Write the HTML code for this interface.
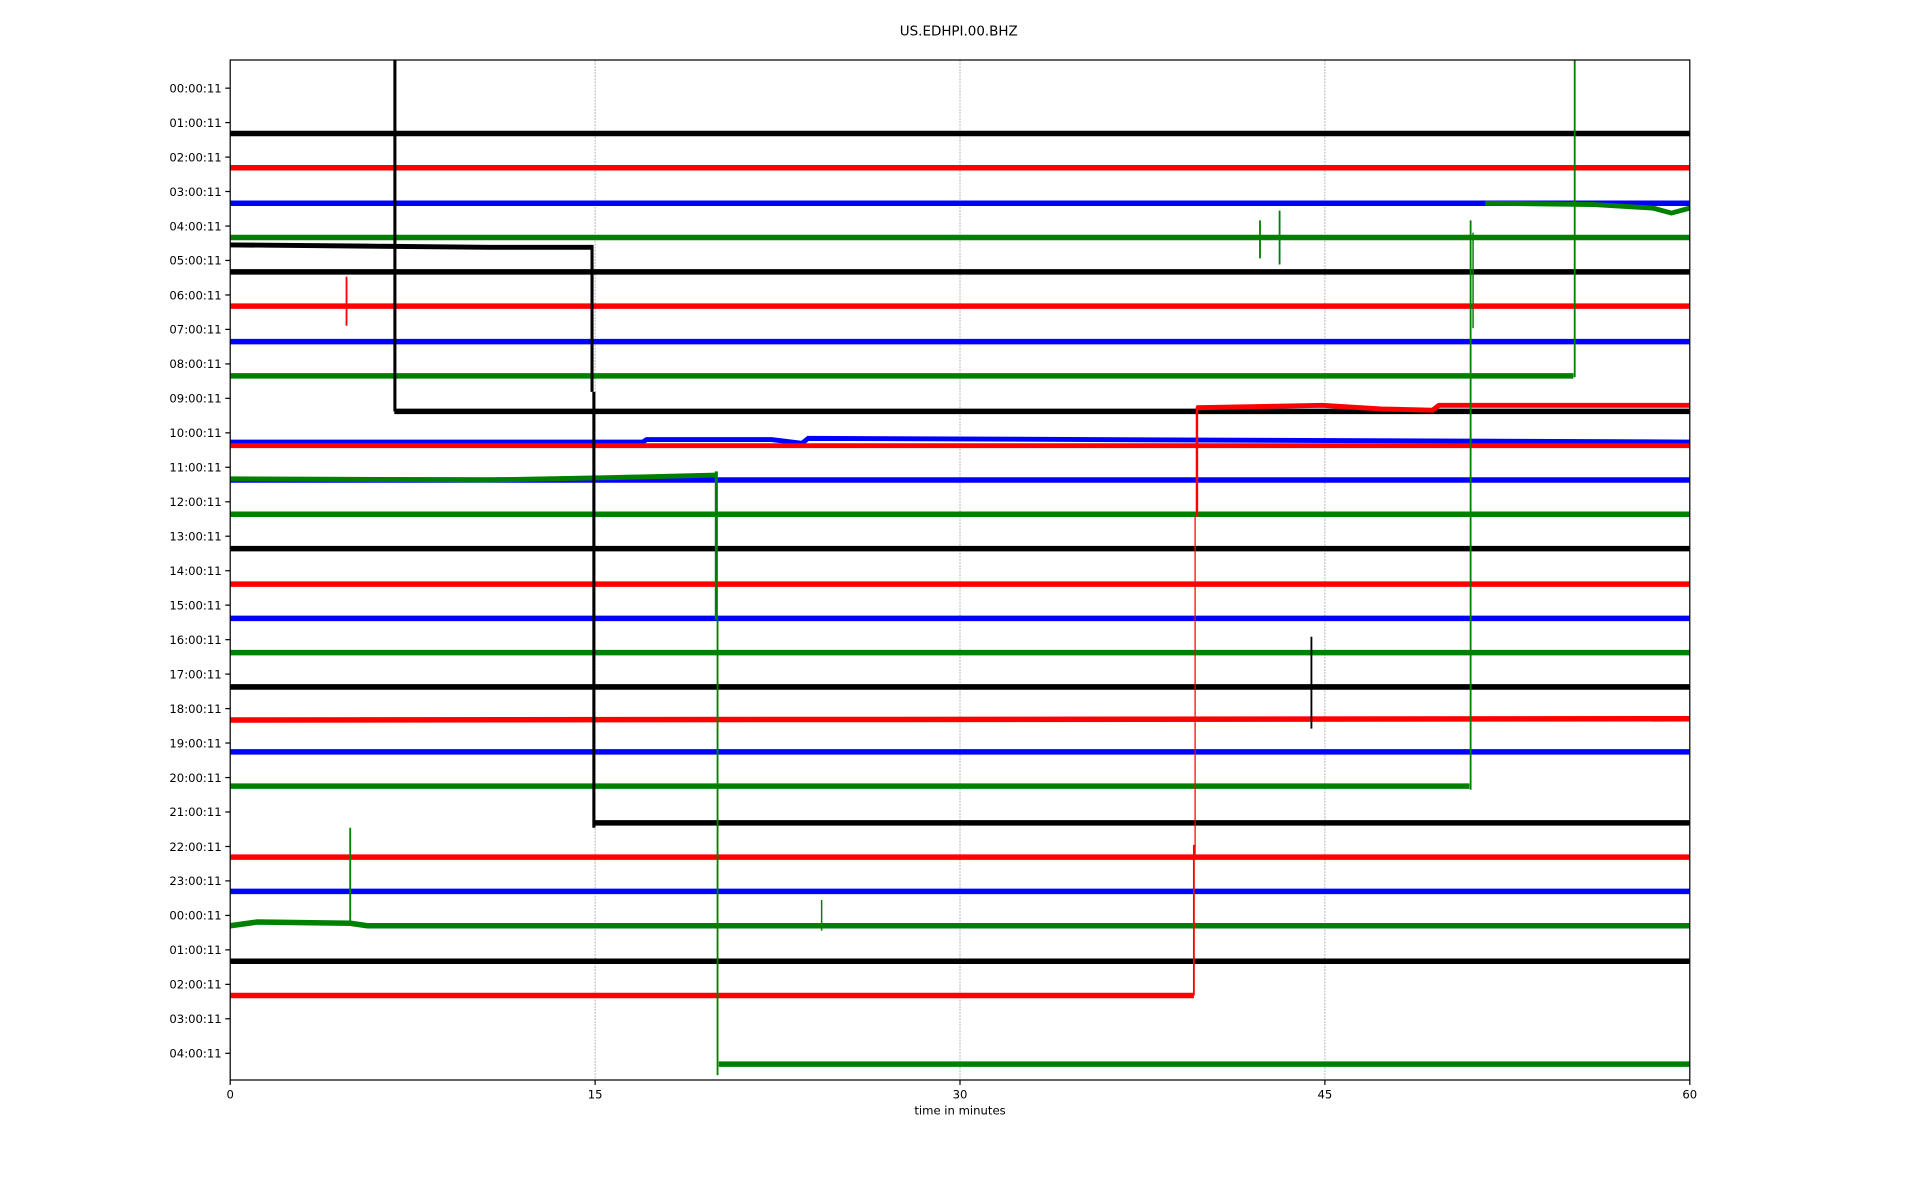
<!DOCTYPE html>
<html><head><meta charset="utf-8"><style>
html,body{margin:0;padding:0;background:#fff;}
svg{display:block;}
text{font-family:"DejaVu Sans","Liberation Sans",sans-serif;fill:#000;}
</style></head><body>
<svg width="1920" height="1200" viewBox="0 0 1568 980" xmlns="http://www.w3.org/2000/svg">
<rect width="1568" height="980" fill="#fff"/>
<text x="783" y="29" font-size="11" text-anchor="middle">US.EDHPI.00.BHZ</text>
<g stroke="#b0b0b0" stroke-width="0.8" stroke-dasharray="1.5,1">
<line x1="486" y1="49" x2="486" y2="882"/>
<line x1="784" y1="49" x2="784" y2="882"/>
<line x1="1082" y1="49" x2="1082" y2="882"/>
</g>
<g fill="none" stroke-linejoin="round">
<g stroke-width="4.5">
<line x1="188" y1="109" x2="1380" y2="109" stroke="#000"/>
<line x1="188" y1="137" x2="1380" y2="137" stroke="#f00"/>
<line x1="188" y1="166" x2="1380" y2="166" stroke="#00f"/>
<line x1="188" y1="194" x2="1380" y2="194" stroke="#008000"/>
<polyline points="188,200 300,201 400,202 483,202" stroke="#000" stroke-width="4"/>
<polyline points="1213,166 1300,167 1350,170 1365,174 1380,170" stroke="#008000" stroke-width="4"/>
<line x1="188" y1="222" x2="1380" y2="222" stroke="#000"/>
<line x1="188" y1="250" x2="1380" y2="250" stroke="#f00"/>
<line x1="188" y1="279" x2="1380" y2="279" stroke="#00f"/>
<line x1="188" y1="307" x2="1285" y2="307" stroke="#008000"/>
<line x1="322" y1="336" x2="1380" y2="336" stroke="#000"/>
<polyline points="977,333 1080,331 1128,334 1170,335 1175,331 1380,331" stroke="#f00" stroke-width="4"/>
<polyline points="188,361 525,361 528,359 630,359 655,362 660,358 1380,361" stroke="#00f" stroke-width="4"/>
<line x1="188" y1="364" x2="1380" y2="364" stroke="#f00" stroke-width="4"/>
<line x1="188" y1="392" x2="1380" y2="392" stroke="#00f"/>
<polyline points="188,391 400,392 500,390 585,388" stroke="#008000" stroke-width="4"/>
<line x1="188" y1="420" x2="1380" y2="420" stroke="#008000"/>
<line x1="188" y1="448" x2="1380" y2="448" stroke="#000"/>
<line x1="188" y1="477" x2="1380" y2="477" stroke="#f00"/>
<line x1="188" y1="505" x2="1380" y2="505" stroke="#00f"/>
<line x1="188" y1="533" x2="1380" y2="533" stroke="#008000"/>
<line x1="188" y1="561" x2="1380" y2="561" stroke="#000"/>
<line x1="188" y1="588" x2="1380" y2="587" stroke="#f00"/>
<line x1="188" y1="614" x2="1380" y2="614" stroke="#00f"/>
<line x1="188" y1="642" x2="1200" y2="642" stroke="#008000"/>
<line x1="485" y1="672" x2="1380" y2="672" stroke="#000"/>
<line x1="188" y1="700" x2="1380" y2="700" stroke="#f00"/>
<line x1="188" y1="728" x2="1380" y2="728" stroke="#00f"/>
<polyline points="188,756 210,753 286,754 300,756 1380,756" stroke="#008000"/>
<line x1="188" y1="785" x2="1380" y2="785" stroke="#000"/>
<line x1="188" y1="813" x2="975" y2="813" stroke="#f00"/>
<line x1="587" y1="869" x2="1380" y2="869" stroke="#008000"/>
</g>
<line x1="322.5" y1="49" x2="322.5" y2="336" stroke="#000" stroke-width="2.5"/>
<line x1="483.5" y1="200" x2="483.5" y2="320" stroke="#000" stroke-width="2.5"/>
<line x1="485" y1="320" x2="485" y2="676" stroke="#000" stroke-width="2.5"/>
<line x1="1286" y1="49" x2="1286" y2="308" stroke="#008000" stroke-width="1.5"/>
<line x1="1201" y1="180" x2="1201" y2="645" stroke="#008000" stroke-width="1.5"/>
<line x1="585" y1="385" x2="585" y2="506" stroke="#008000" stroke-width="2.5"/>
<line x1="586" y1="506" x2="586" y2="878" stroke="#008000" stroke-width="1.5"/>
<line x1="977.5" y1="332" x2="977.5" y2="422" stroke="#f00" stroke-width="2"/>
<line x1="976" y1="422" x2="976" y2="700" stroke="#f00" stroke-width="1"/>
<line x1="975" y1="690" x2="975" y2="813" stroke="#f00" stroke-width="1.5"/>
<line x1="286" y1="676" x2="286" y2="756" stroke="#008000" stroke-width="1.5"/>
<line x1="1071" y1="520" x2="1071" y2="595" stroke="#000" stroke-width="1.5"/>
<line x1="283" y1="226" x2="283" y2="266" stroke="#f00" stroke-width="1.5"/>
<line x1="1029" y1="180" x2="1029" y2="211" stroke="#008000" stroke-width="1.5"/>
<line x1="1045" y1="172" x2="1045" y2="216" stroke="#008000" stroke-width="1.5"/>
<line x1="1203" y1="190" x2="1203" y2="268" stroke="#008000" stroke-width="1.2"/>
<line x1="671" y1="735" x2="671" y2="760" stroke="#008000" stroke-width="1.2"/>
</g>
<rect x="188" y="49" width="1192" height="833" fill="none" stroke="#000" stroke-width="1"/>
<g stroke="#000" stroke-width="1">
<line x1="188" y1="882" x2="188" y2="886"/><line x1="486" y1="882" x2="486" y2="886"/><line x1="784" y1="882" x2="784" y2="886"/><line x1="1082" y1="882" x2="1082" y2="886"/><line x1="1380" y1="882" x2="1380" y2="886"/>
</g>
<g font-size="9.5" text-anchor="middle">
<text x="188" y="897">0</text><text x="486" y="897">15</text><text x="784" y="897">30</text><text x="1082" y="897">45</text><text x="1380" y="897">60</text>
<text x="784" y="910">time in minutes</text>
</g>
<g font-size="9.5" text-anchor="end">
<text x="181" y="75.5">00:00:11</text>
<text x="181" y="103.6">01:00:11</text>
<text x="181" y="131.8">02:00:11</text>
<text x="181" y="159.9">03:00:11</text>
<text x="181" y="188.1">04:00:11</text>
<text x="181" y="216.2">05:00:11</text>
<text x="181" y="244.4">06:00:11</text>
<text x="181" y="272.5">07:00:11</text>
<text x="181" y="300.7">08:00:11</text>
<text x="181" y="328.8">09:00:11</text>
<text x="181" y="357">10:00:11</text>
<text x="181" y="385.1">11:00:11</text>
<text x="181" y="413.3">12:00:11</text>
<text x="181" y="441.4">13:00:11</text>
<text x="181" y="469.6">14:00:11</text>
<text x="181" y="497.7">15:00:11</text>
<text x="181" y="525.9">16:00:11</text>
<text x="181" y="554">17:00:11</text>
<text x="181" y="582.2">18:00:11</text>
<text x="181" y="610.3">19:00:11</text>
<text x="181" y="638.5">20:00:11</text>
<text x="181" y="666.6">21:00:11</text>
<text x="181" y="694.8">22:00:11</text>
<text x="181" y="722.9">23:00:11</text>
<text x="181" y="751.1">00:00:11</text>
<text x="181" y="779.2">01:00:11</text>
<text x="181" y="807.4">02:00:11</text>
<text x="181" y="835.5">03:00:11</text>
<text x="181" y="863.7">04:00:11</text>
</g>
<g stroke="#000" stroke-width="1">
<line x1="184" y1="72" x2="188" y2="72"/><line x1="184" y1="100.1" x2="188" y2="100.1"/><line x1="184" y1="128.3" x2="188" y2="128.3"/><line x1="184" y1="156.4" x2="188" y2="156.4"/><line x1="184" y1="184.6" x2="188" y2="184.6"/><line x1="184" y1="212.7" x2="188" y2="212.7"/><line x1="184" y1="240.9" x2="188" y2="240.9"/><line x1="184" y1="269" x2="188" y2="269"/><line x1="184" y1="297.2" x2="188" y2="297.2"/><line x1="184" y1="325.3" x2="188" y2="325.3"/><line x1="184" y1="353.5" x2="188" y2="353.5"/><line x1="184" y1="381.6" x2="188" y2="381.6"/><line x1="184" y1="409.8" x2="188" y2="409.8"/><line x1="184" y1="437.9" x2="188" y2="437.9"/><line x1="184" y1="466.1" x2="188" y2="466.1"/><line x1="184" y1="494.2" x2="188" y2="494.2"/><line x1="184" y1="522.4" x2="188" y2="522.4"/><line x1="184" y1="550.5" x2="188" y2="550.5"/><line x1="184" y1="578.7" x2="188" y2="578.7"/><line x1="184" y1="606.8" x2="188" y2="606.8"/><line x1="184" y1="635" x2="188" y2="635"/><line x1="184" y1="663.1" x2="188" y2="663.1"/><line x1="184" y1="691.3" x2="188" y2="691.3"/><line x1="184" y1="719.4" x2="188" y2="719.4"/><line x1="184" y1="747.6" x2="188" y2="747.6"/><line x1="184" y1="775.7" x2="188" y2="775.7"/><line x1="184" y1="803.9" x2="188" y2="803.9"/><line x1="184" y1="832" x2="188" y2="832"/><line x1="184" y1="860.2" x2="188" y2="860.2"/>
</g>
</svg>
</body></html>
